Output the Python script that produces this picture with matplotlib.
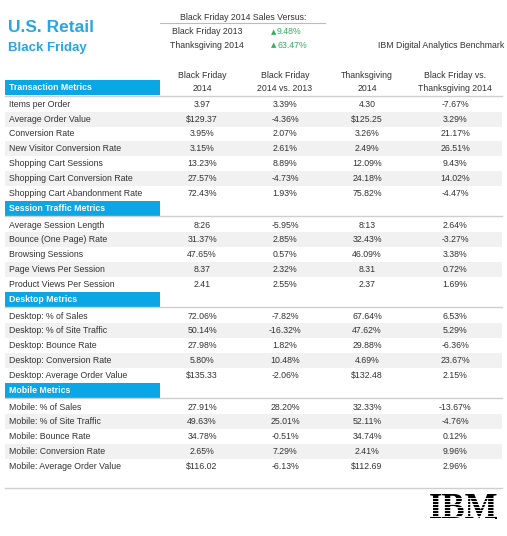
import matplotlib
matplotlib.use("Agg")
import matplotlib.pyplot as plt
from matplotlib.patches import Rectangle

plt.rcParams['font.family'] = ['Liberation Sans Narrow', 'Liberation Sans', 'DejaVu Sans']

# Datos
col_headers = ["Black Friday\n2014", "Black Friday\n2014 vs. 2013",
               "Thanksgiving\n2014", "Black Friday vs.\nThanksgiving 2014"]

sections = ["Transaction Metrics", "Session Traffic Metrics",
            "Desktop Metrics", "Mobile Metrics"]

transaction_metrics = ["Items per Order", "Average Order Value", "Conversion Rate",
                       "New Visitor Conversion Rate", "Shopping Cart Sessions",
                       "Shopping Cart Conversion Rate", "Shopping Cart Abandonment Rate"]
transaction_bf2014 = ["3.97", "$129.37", "3.95%", "3.15%", "13.23%", "27.57%", "72.43%"]
transaction_vs2013 = ["3.39%", "-4.36%", "2.07%", "2.61%", "8.89%", "-4.73%", "1.93%"]
transaction_tg2014 = ["4.30", "$125.25", "3.26%", "2.49%", "12.09%", "24.18%", "75.82%"]
transaction_vstg = ["-7.67%", "3.29%", "21.17%", "26.51%", "9.43%", "14.02%", "-4.47%"]

session_metrics = ["Average Session Length", "Bounce (One Page) Rate", "Browsing Sessions",
                   "Page Views Per Session", "Product Views Per Session"]
session_bf2014 = ["8:26", "31.37%", "47.65%", "8.37", "2.41"]
session_vs2013 = ["-5.95%", "2.85%", "0.57%", "2.32%", "2.55%"]
session_tg2014 = ["8:13", "32.43%", "46.09%", "8.31", "2.37"]
session_vstg = ["2.64%", "-3.27%", "3.38%", "0.72%", "1.69%"]

desktop_metrics = ["Desktop: % of Sales", "Desktop: % of Site Traffic", "Desktop: Bounce Rate",
                   "Desktop: Conversion Rate", "Desktop: Average Order Value"]
desktop_bf2014 = ["72.06%", "50.14%", "27.98%", "5.80%", "$135.33"]
desktop_vs2013 = ["-7.82%", "-16.32%", "1.82%", "10.48%", "-2.06%"]
desktop_tg2014 = ["67.64%", "47.62%", "29.88%", "4.69%", "$132.48"]
desktop_vstg = ["6.53%", "5.29%", "-6.36%", "23.67%", "2.15%"]

mobile_metrics = ["Mobile: % of Sales", "Mobile: % of Site Traffic", "Mobile: Bounce Rate",
                  "Mobile: Conversion Rate", "Mobile: Average Order Value"]
mobile_bf2014 = ["27.91%", "49.63%", "34.78%", "2.65%", "$116.02"]
mobile_vs2013 = ["28.20%", "25.01%", "-0.51%", "7.29%", "-6.13%"]
mobile_tg2014 = ["32.33%", "52.11%", "34.74%", "2.41%", "$112.69"]
mobile_vstg = ["-13.67%", "-4.76%", "0.12%", "9.96%", "2.96%"]

versus_labels = ["Black Friday 2013", "Thanksgiving 2014"]
versus_values = ["9.48%", "63.47%"]

blocks = [
    (transaction_metrics, [transaction_bf2014, transaction_vs2013, transaction_tg2014, transaction_vstg]),
    (session_metrics, [session_bf2014, session_vs2013, session_tg2014, session_vstg]),
    (desktop_metrics, [desktop_bf2014, desktop_vs2013, desktop_tg2014, desktop_vstg]),
    (mobile_metrics, [mobile_bf2014, mobile_vs2013, mobile_tg2014, mobile_vstg]),
]

# Colores / layout
BLUE = "#0aa6e5"
TITLE_BLUE = "#2aa6de"
GREEN = "#3aab62"
TXT = "#333333"
SHADE = "#f1f1f1"
LINE = "#cfcfcf"
col_x = [202, 285, 367, 455]
x_left, x_right = 5, 502
bar_w = 155
bar_h = 15
row_h = 14.8
fs = 6.3

fig = plt.figure(figsize=(5.07, 5.36), dpi=100)
ax = fig.add_axes([0, 0, 1, 1])
ax.set_xlim(0, 507)
ax.set_ylim(536, 0)
ax.axis("off")

# Título
ax.text(8, 28, "U.S. Retail", fontsize=12.5, fontweight="bold", color=TITLE_BLUE,
        va="center", ha="left")
ax.text(8, 48.5, "Black Friday", fontsize=9.5, fontweight="bold", color=TITLE_BLUE,
        va="center", ha="left")

# Resumen de ventas
ax.text(243, 17, "Black Friday 2014 Sales Versus:", fontsize=fs, color=TXT, ha="center", va="center")
ax.plot([160, 325], [23, 23], color="#bbbbbb", lw=0.8)
for i, (lab, val) in enumerate(zip(versus_labels, versus_values)):
    y = 32 + i * 13
    ax.text(207, y, lab, fontsize=fs, color=TXT, ha="center", va="center")
    ax.text(271, y, "\u25b2", fontsize=5, color=GREEN, ha="left", va="center",
            family="DejaVu Sans")
    ax.text(277, y, val, fontsize=fs, color=GREEN, ha="left", va="center")

ax.text(441, 45, "IBM Digital Analytics Benchmark", fontsize=fs, color=TXT, ha="center", va="center")

# Encabezados de columnas
for x, h in zip(col_x, col_headers):
    ax.text(x, 82, h, fontsize=fs, color=TXT, ha="center", va="center", linespacing=1.65)

# Secciones
y = 80
for name, (metrics, cols) in zip(sections, blocks):
    ax.add_patch(Rectangle((x_left, y), bar_w, bar_h, color=BLUE, lw=0))
    ax.text(9, y + bar_h / 2, name, fontsize=fs, fontweight="bold", color="white",
            ha="left", va="center")
    ax.plot([x_left, x_right], [y + bar_h + 0.5, y + bar_h + 0.5], color=LINE, lw=1)
    y += bar_h + 2
    for i, m in enumerate(metrics):
        if i % 2 == 1:
            ax.add_patch(Rectangle((x_left, y), x_right - x_left, row_h, color=SHADE, lw=0))
        yc = y + row_h / 2
        ax.text(9, yc, m, fontsize=fs, color=TXT, ha="left", va="center")
        for x, c in zip(col_x, cols):
            ax.text(x, yc, c[i], fontsize=fs, color=TXT, ha="center", va="center")
        y += row_h

ax.plot([x_left, x_right], [488, 488], color=LINE, lw=1)

# Logo IBM (rayado)
ax.text(464, 509, "IBM", fontsize=25, fontweight="bold", color="black",
        family=["Liberation Serif", "DejaVu Serif"], ha="center", va="center", zorder=3)
for k in range(9):
    yy = 497.8 + k * 3.0
    ax.plot([425, 503], [yy, yy], color="white", lw=0.65, zorder=4)
ax.add_patch(Rectangle((495, 517), 2.2, 2.2, color="black", lw=0, zorder=5))

fig.savefig("out.png", dpi=100, facecolor="white")
